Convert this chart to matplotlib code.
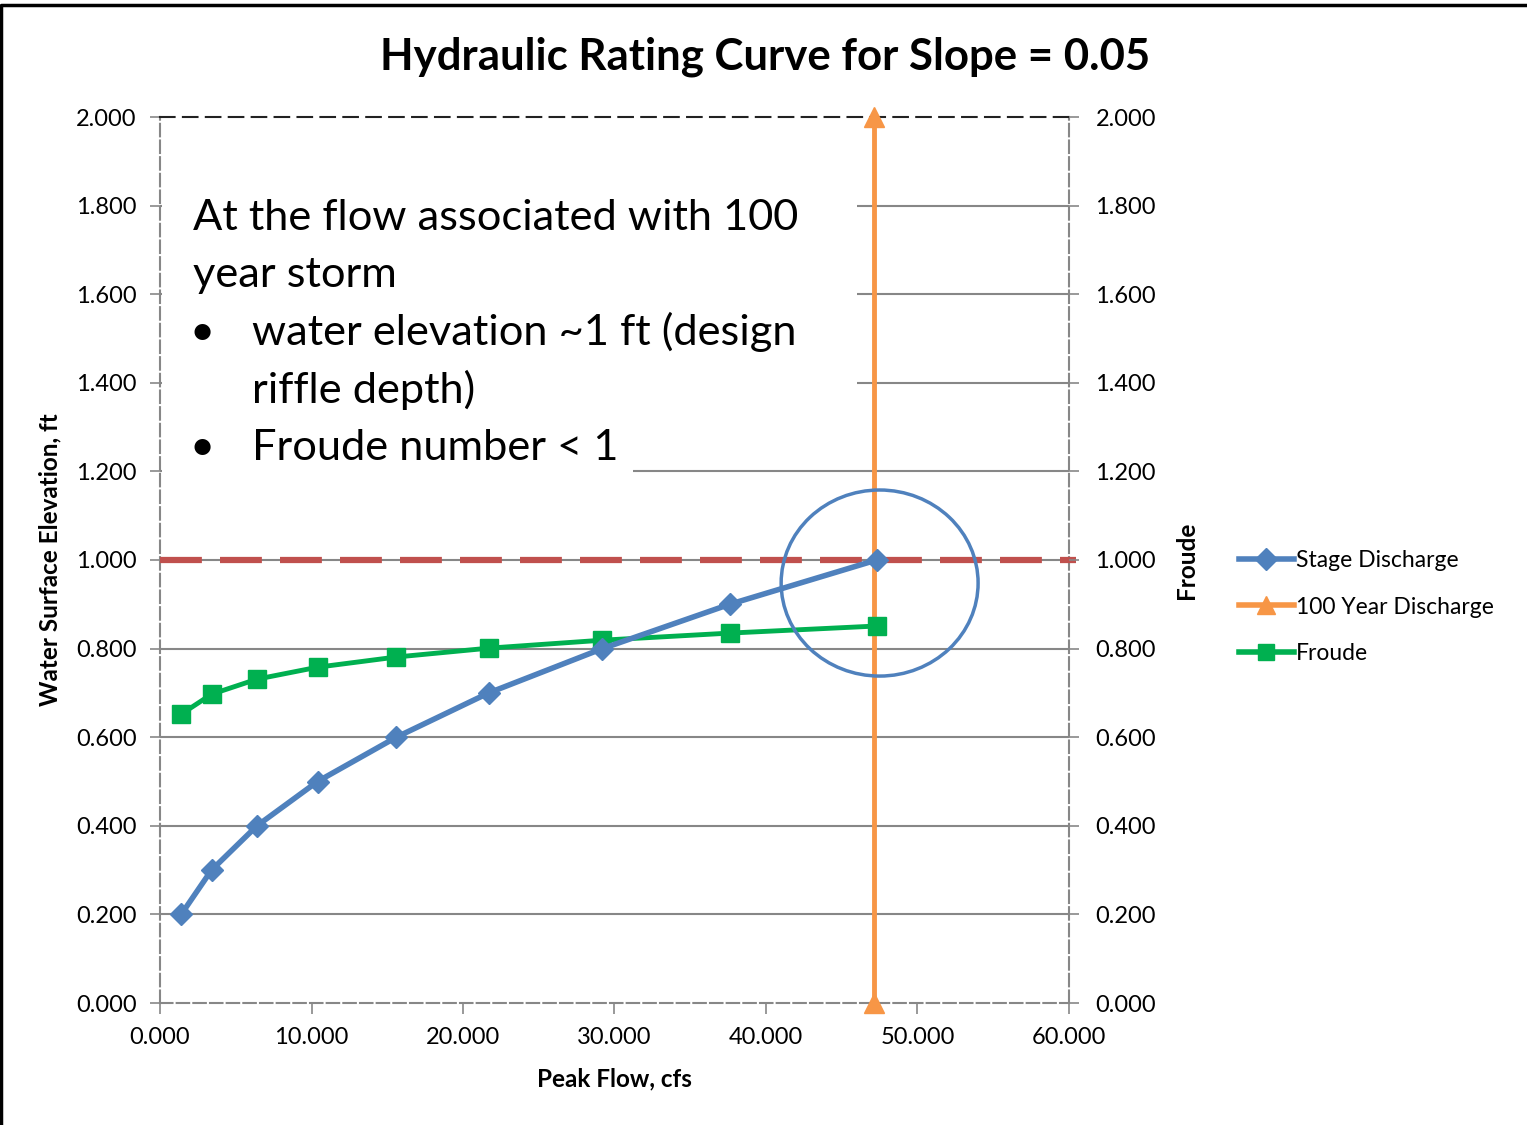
import matplotlib
matplotlib.use('Agg')
import matplotlib.pyplot as plt
from matplotlib.patches import Ellipse, Rectangle
from matplotlib.lines import Line2D
import numpy as np

plt.rcParams['font.family'] = ['Lato', 'DejaVu Sans']

# Datos
peak_flow = [1.4, 3.4, 6.4, 10.4, 15.6, 21.7, 29.2, 37.6, 47.3]
stage = [0.2, 0.3, 0.4, 0.5, 0.6, 0.7, 0.8, 0.9, 1.0]
froude = [0.652, 0.697, 0.731, 0.758, 0.781, 0.801, 0.819, 0.835, 0.851]
q100_x = [47.1, 47.1]
q100_y = [0.0, 2.0]
design_depth = 1.0

x_ticks = [0, 10, 20, 30, 40, 50, 60]
y_ticks = [0.0, 0.2, 0.4, 0.6, 0.8, 1.0, 1.2, 1.4, 1.6, 1.8, 2.0]

note_lines = ['At the flow associated with 100', 'year storm']
bullet_lines = ['water elevation ~1 ft (design', 'riffle depth)', 'Froude number < 1']

W, H = 1527, 1125
fig = plt.figure(figsize=(W / 100, H / 100), dpi=100)
ax = fig.add_axes([160 / W, 1 - 1003 / H, (1069 - 160) / W, (1003 - 117) / H])
ax2 = ax.twinx()

blue = '#4F81BD'
orange = '#F79646'
green = '#00B050'
red = '#C0504D'
grid_c = '#878787'

ax.set_xlim(0, 60)
ax.set_ylim(0, 2)
ax2.set_ylim(0, 2)
ax.set_xticks(x_ticks)
ax.set_yticks(y_ticks)
ax2.set_yticks(y_ticks)
ax.set_xticklabels([f'{v:.3f}' for v in x_ticks], fontsize=17)
ax.set_yticklabels([f'{v:.3f}' for v in y_ticks], fontsize=17)
ax2.set_yticklabels([f'{v:.3f}' for v in y_ticks], fontsize=17)

for y in y_ticks[1:-1]:
    ax.axhline(y, color=grid_c, lw=1.5, zorder=1)

# cuadro blanco del texto tapando las lineas de grid
ax.add_patch(Rectangle((0.1, 1.3), 45.9, 0.6, facecolor='white', edgecolor='none', zorder=2))
ax.add_patch(Rectangle((0.1, 1.1), 31.1, 0.2, facecolor='white', edgecolor='none', zorder=2))

ax.tick_params(axis='y', direction='inout', length=14, width=1.2, color=grid_c, pad=10)
ax.tick_params(axis='x', direction='out', length=8, width=1.2, color=grid_c, pad=9)
ax2.tick_params(axis='y', direction='out', length=7, width=1.2, color=grid_c, pad=12)

for sp in ['left', 'right', 'bottom']:
    ax2.spines[sp].set_visible(False)
    ax.spines[sp].set_color(grid_c)
    ax.spines[sp].set_linestyle((0, (6, 2)))
    ax.spines[sp].set_linewidth(1.5)
ax2.spines['top'].set_visible(False)
ax.spines['top'].set_color('#222222')
ax.spines['top'].set_linestyle((0, (7, 4)))
ax.spines['top'].set_linewidth(1.5)

ax.axhline(design_depth, xmax=1.008, color=red, lw=4.5, dashes=(6.7, 2.9), zorder=3,
           clip_on=False)

ax2.plot(q100_x, q100_y, color=orange, lw=3.5, marker='^', ms=14, clip_on=False, zorder=4,
         label='100 Year Discharge')
ax2.plot(peak_flow, froude, color=green, lw=3.5, marker='s', ms=13, zorder=5, label='Froude')
ax2.plot(peak_flow, stage, color=blue, lw=4, marker='D', ms=11, zorder=6, label='Stage Discharge')

ax2.add_patch(Ellipse((47.5, 0.948), 13.0, 0.42, fill=False, edgecolor=blue, lw=2.5, zorder=7))

ax.set_xlabel('Peak Flow, cfs', fontsize=17.5, fontweight='bold', labelpad=14)
ax.set_ylabel('Water Surface Elevation, ft', fontsize=17.5, fontweight='bold', labelpad=10)
ax2.set_ylabel('Froude', fontsize=17.5, fontweight='bold', labelpad=14)

fig.text(0.5 * (380 + 1150) / W, 1 - 57 / H, 'Hydraulic Rating Curve for Slope = 0.05',
         fontsize=31.5, fontweight='bold', ha='center', va='center')

y0 = 230
for i, t in enumerate(note_lines):
    fig.text(193 / W, 1 - (y0 + 57.5 * i) / H, t, fontsize=31.2, va='baseline')
for i, t in enumerate(bullet_lines):
    yy = 1 - (y0 + 57.5 * (i + 2)) / H
    if i != 1:
        fig.text(190 / W, yy, '\u2022', fontsize=31.2, va='baseline')
    fig.text(252 / W, yy, t, fontsize=31.2, va='baseline')

handles = [Line2D([], [], color=blue, lw=4, marker='D', ms=11),
           Line2D([], [], color=orange, lw=4, marker='^', ms=13),
           Line2D([], [], color=green, lw=4, marker='s', ms=12)]
fig.legend(handles, ['Stage Discharge', '100 Year Discharge', 'Froude'],
           loc='center left', bbox_to_anchor=(1218 / W, 1 - 607 / H), frameon=False,
           fontsize=16.5, handlelength=2.4, handletextpad=0.1, labelspacing=1.1)

# borde de la figura
fig.add_artist(Line2D([1 / W, 1 / W, 1], [0, 1 - 5 / H, 1 - 5 / H], color='black', lw=2.5,
                      transform=fig.transFigure))

fig.savefig('out.png', dpi=100)
